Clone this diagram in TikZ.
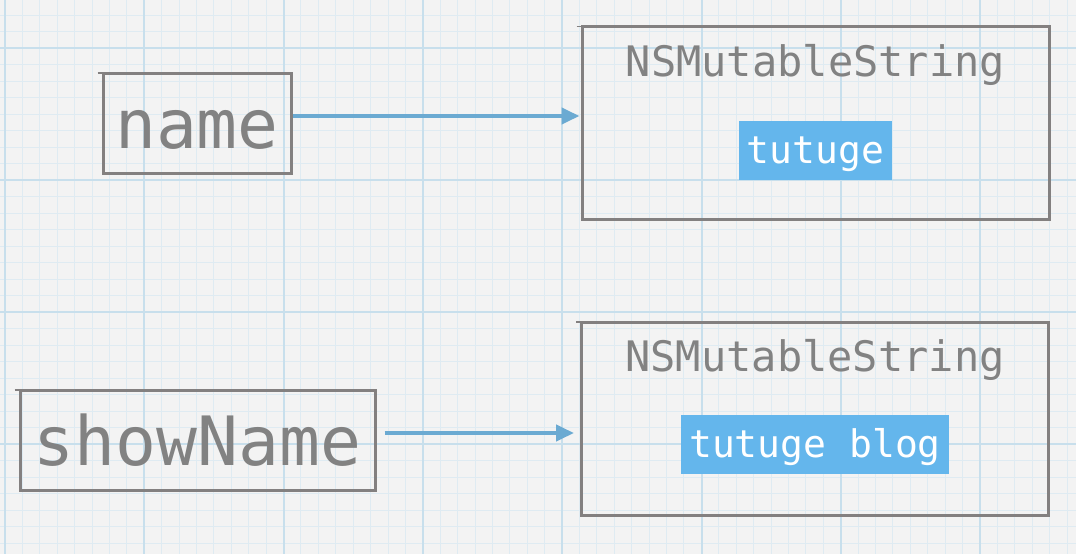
\documentclass[tikz,border=0pt]{standalone}
\usepackage{fontspec}
\setmonofont{DejaVu Sans Mono}
\usetikzlibrary{arrows.meta}
\definecolor{paper}{HTML}{F3F3F3}
\definecolor{gridlo}{HTML}{DFEBF2}
\definecolor{gridhi}{HTML}{C8DFEC}
\definecolor{inkgray}{HTML}{838080}
\definecolor{txtgray}{HTML}{828282}
\definecolor{arrowblue}{HTML}{6BAAD2}
\definecolor{hlblue}{HTML}{64B6EC}
\begin{document}
\begin{tikzpicture}[x=1pt,y=-1pt,
	sketch/.style={append after command={([xshift=-4pt,yshift=-1.5pt]\tikzlastnode.north west) edge[draw=inkgray,line width=1.5pt] ([xshift=4pt,yshift=-1.5pt]\tikzlastnode.north west)}},
	varbox/.style={draw=inkgray,line width=3pt,inner sep=0pt,text height=50pt,text depth=0pt,text=txtgray,font=\ttfamily\fontsize{68}{80}\selectfont,sketch},
	objbox/.style={draw=inkgray,line width=3pt,inner sep=0pt,minimum width=467pt,minimum height=193pt,sketch},
	title/.style={inner sep=0pt,text=txtgray,font=\ttfamily\fontsize{42}{50}\selectfont},
	value/.style={fill=hlblue,text=white,inner sep=0pt,inner xsep=8pt,minimum height=59pt,text height=28pt,text depth=3pt,font=\ttfamily\fontsize{38}{46}\selectfont},
	ptr/.style={draw=arrowblue,line width=4pt,-{Triangle[length=18pt,width=16pt]}}]
	\useasboundingbox (0,0) rectangle (1076,554);
	\fill[paper] (0,0) rectangle (1076,554);
	\foreach \k in {0,...,61}
	\draw[gridlo,line width=1pt] ({5+17.41*\k},0) -- ({5+17.41*\k},554);
	\foreach \k in {-2,...,30}
	\draw[gridlo,line width=1pt] (0,{48+16.5*\k}) -- (1076,{48+16.5*\k});
	\foreach \k in {0,...,7}
	\draw[gridhi,line width=2pt] ({5+139.3*\k},0) -- ({5+139.3*\k},554);
	\foreach \k in {0,...,3}
	\draw[gridhi,line width=2pt] (0,{48+132*\k}) -- (1076,{48+132*\k});
	\node[varbox,minimum width=188pt,minimum height=100pt] (name) at (197,123) {name};
	\node[varbox,minimum width=355pt,minimum height=100pt] (show) at (197.5,440) {showName};
	\node[objbox] (obj1) at (815.5,123) {};
	\node[objbox] (obj2) at (815,418.5) {};
	\node[title,anchor=base] (t1) at ([yshift=-51pt]obj1.north) {NSMutableString};
	\node[title,anchor=base] (t2) at ([yshift=-51pt]obj2.north) {NSMutableString};
	\node[value] (v1) at ([yshift=-27.5pt]obj1.center) {tutuge};
	\node[value] (v2) at ([yshift=-26pt]obj2.center) {tutuge blog};
	\draw[ptr] ([yshift=7pt]name.east) -- ([xshift=-1pt,yshift=7pt]obj1.west);
	\draw[ptr] ([xshift=8pt,yshift=7pt]show.east) -- ([xshift=-6pt,yshift=-14.5pt]obj2.west);
\end{tikzpicture}
\end{document}
